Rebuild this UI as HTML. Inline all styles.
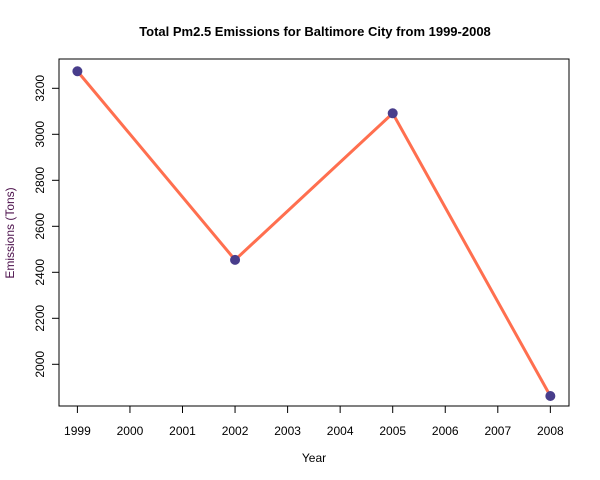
<!DOCTYPE html>
<html><head><meta charset="utf-8"><style>body{margin:0;background:#fff}svg{display:block;font-family:"Liberation Sans",Arial,sans-serif}</style></head>
<body>
<svg id="c" width="600" height="480" xmlns="http://www.w3.org/2000/svg"></svg>
<script>
const years = [1999, 2002, 2005, 2008];
const emissions = [3274.18, 2453.92, 3091.35, 1862.28];
const xTicks = [1999,2000,2001,2002,2003,2004,2005,2006,2007,2008];
const yTicks = [2000,2200,2400,2600,2800,3000,3200];
const NS="http://www.w3.org/2000/svg";
const svg=document.getElementById('c');
const X=v=>77.4+(v-1999)*52.55;
const Y=v=>88.3-(v-3200)*0.23;
function el(t,a,p){const e=document.createElementNS(NS,t);for(const k in a)e.setAttribute(k,a[k]);(p||svg).appendChild(e);return e;}
let t=el('text',{x:315,y:36,'text-anchor':'middle','font-size':13,'font-weight':'bold'});t.textContent='Total Pm2.5 Emissions for Baltimore City from 1999-2008';


let b=el('rect',{x:59,y:59,width:510,height:347,fill:'none',stroke:'#000','stroke-width':1});


xTicks.forEach(v=>{const x=X(v);el('line',{x1:x,x2:x,y1:406,y2:413,stroke:'#000'});
 const l=el('text',{x:x,y:435,'text-anchor':'middle','font-size':12});l.textContent=v;
 
 });
yTicks.forEach(v=>{const y=Y(v);el('line',{x1:52,x2:59,y1:y,y2:y,stroke:'#000'});
 const l=el('text',{x:0,y:0,'text-anchor':'middle','font-size':12,transform:`translate(44,${y}) rotate(-90)`});l.textContent=v;
 
 });
let xt=el('text',{x:314,y:462,'text-anchor':'middle','font-size':12});xt.textContent='Year';


let yt=el('text',{x:0,y:0,'text-anchor':'middle','font-size':12,fill:'#4b0f4b',transform:'translate(14,233) rotate(-90)'});yt.textContent='Emissions (Tons)';


let ln=el('polyline',{points:years.map((y,i)=>X(y)+','+Y(emissions[i])).join(' '),fill:'none',stroke:'#ff6f4f','stroke-width':3});


years.forEach((y,i)=>{const p=el('circle',{cx:X(y),cy:Y(emissions[i]),r:5,fill:'#483d8b'});
 
 });
</script>
</body></html>
